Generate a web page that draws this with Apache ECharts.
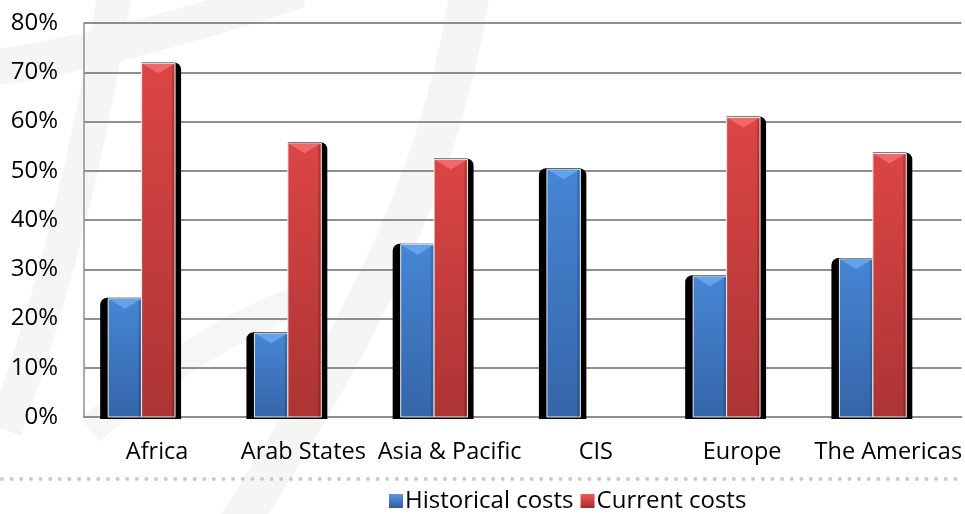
<!DOCTYPE html>
<html>
<head>
<meta charset="utf-8">
<script src="https://cdn.jsdelivr.net/npm/echarts@6/dist/echarts.min.js"></script>
<style>
html,body{margin:0;padding:0;background:#fff;}
#chart{width:965px;height:514px;}
</style>
</head>
<body>
<div id="chart"></div>
<script>
var categories = ['Africa', 'Arab States', 'Asia & Pacific', 'CIS', 'Europe', 'The Americas'];
var historicalCosts = [0.24, 0.17, 0.35, 0.503, 0.286, 0.321];
var currentCosts = [0.718, 0.556, 0.523, null, 0.608, 0.535];
var seriesNames = ['Historical costs', 'Current costs'];

var FONT = 'Open Sans';

function vGrad(c0, c1) {
  return {type: 'linear', x: 0, y: 0, x2: 0, y2: 1, colorStops: [
    {offset: 0, color: c0}, {offset: 1, color: c1}]};
}
var STYLES = [
  {grad: vGrad('#4686d4', '#3565a8'), bevel: '#64a2ec', legend: vGrad('#5a98e2', '#2f5c9c')},
  {grad: vGrad('#dc4545', '#ac3434'), bevel: '#f06868', legend: vGrad('#ee5c5c', '#a02c2c')}
];

function makeRender(sIdx) {
  return function (params, api) {
    var idx = api.value(0), val = api.value(1);
    if (val == null || isNaN(val)) return;
    var base = api.coord([idx, 0]);
    var top = api.coord([idx, val]);
    var band = api.size([1, 0])[0];
    var w = band * 0.2287;
    var off = band * 0.106;
    var x = sIdx === 0 ? base[0] - off - w : base[0] - off;
    var y = top[1];
    var h = base[1] - y;
    var st = STYLES[sIdx];
    var sh = sIdx === 0
      ? {x: x - 8, y: y - 1, width: w + 14, height: h + 3, r: [7, 7, 0, 0]}
      : {x: x, y: y - 1, width: w + 6, height: h + 3, r: [0, 7, 0, 0]};
    var bd = Math.min(10, h);
    return {
      type: 'group',
      children: [
        {type: 'rect', shape: sh, style: {fill: '#000'}},
        {type: 'rect', shape: {x: x, y: y, width: w, height: h},
         style: {fill: st.grad, stroke: 'rgba(255,255,255,0.9)', lineWidth: 1}},
        {type: 'rect', shape: {x: x + w - 3, y: y + 1, width: 2, height: h - 1},
         style: {fill: 'rgba(0,0,0,0.18)'}},
        {type: 'polygon', shape: {points: [[x + 1, y + 0.5], [x + w - 1, y + 0.5], [x + w / 2, y + bd]]},
         style: {fill: st.bevel}}
      ]
    };
  };
}

function toData(arr) {
  var out = [];
  arr.forEach(function (v, i) { if (v != null) out.push([i, v]); });
  return out;
}

var chart = echarts.init(document.getElementById('chart'), null, {renderer: 'canvas'});
chart.setOption({
  backgroundColor: '#fff',
  animation: false,
  graphic: [
    {type: 'bezierCurve', silent: true, z: -10,
     shape: {x1: 115, y1: -10, cpx1: 95, cpy1: 120, cpx2: 60, cpy2: 280, x2: 5, y2: 430},
     style: {stroke: '#f5f5f4', lineWidth: 34, fill: null}},
    {type: 'bezierCurve', silent: true, z: -10,
     shape: {x1: -10, y1: 68, cpx1: 60, cpy1: 60, cpx2: 180, cpy2: 30, x2: 300, y2: -10},
     style: {stroke: '#f5f5f4', lineWidth: 36, fill: null}},
    {type: 'bezierCurve', silent: true, z: -10,
     shape: {x1: 470, y1: -10, cpx1: 440, cpy1: 200, cpx2: 330, cpy2: 380, x2: 235, y2: 530},
     style: {stroke: '#f5f5f4', lineWidth: 40, fill: null}},
    {type: 'bezierCurve', silent: true, z: -10,
     shape: {x1: 90, y1: 430, cpx1: 150, cpy1: 380, cpx2: 220, cpy2: 330, x2: 300, y2: 300},
     style: {stroke: '#f6f6f5', lineWidth: 30, fill: null}},
    {type: 'line', silent: true,
     shape: {x1: 2, y1: 479, x2: 965, y2: 479},
     style: {stroke: '#c9c9c9', lineWidth: 4, lineDash: [0, 9.63], lineCap: 'round'}}
  ],
  grid: {left: 84, right: 2, top: 23, bottom: 97, containLabel: false},
  legend: {
    data: seriesNames,
    left: 384, top: 484,
    itemWidth: 14, itemHeight: 14, itemGap: 7,
    icon: 'rect',
    textStyle: {fontFamily: FONT, fontSize: 24, color: '#000', padding: [0, 0, 0, -3]}
  },
  xAxis: {
    type: 'category',
    data: categories,
    axisLine: {show: true, lineStyle: {color: '#8f8f8f', width: 2}},
    axisTick: {show: false},
    axisLabel: {fontFamily: FONT, fontSize: 23.5, color: '#000', margin: 23, interval: 0}
  },
  yAxis: {
    type: 'value',
    min: 0, max: 0.8, interval: 0.1,
    axisLine: {show: true, lineStyle: {color: '#8f8f8f', width: 1.5}},
    axisTick: {show: false},
    splitLine: {lineStyle: {color: '#8f8f8f', width: 2}},
    axisLabel: {
      fontFamily: FONT, fontSize: 24, color: '#000', margin: 26,
      formatter: function (v) { return Math.round(v * 100) + '%'; }
    }
  },
  series: [
    {
      name: seriesNames[0], type: 'custom', data: toData(historicalCosts),
      encode: {x: 0, y: 1}, z: 3,
      itemStyle: {color: STYLES[0].legend},
      renderItem: makeRender(0)
    },
    {
      name: seriesNames[1], type: 'custom', data: toData(currentCosts),
      encode: {x: 0, y: 1}, z: 4,
      itemStyle: {color: STYLES[1].legend},
      renderItem: makeRender(1)
    }
  ]
});
</script>
</body>
</html>
